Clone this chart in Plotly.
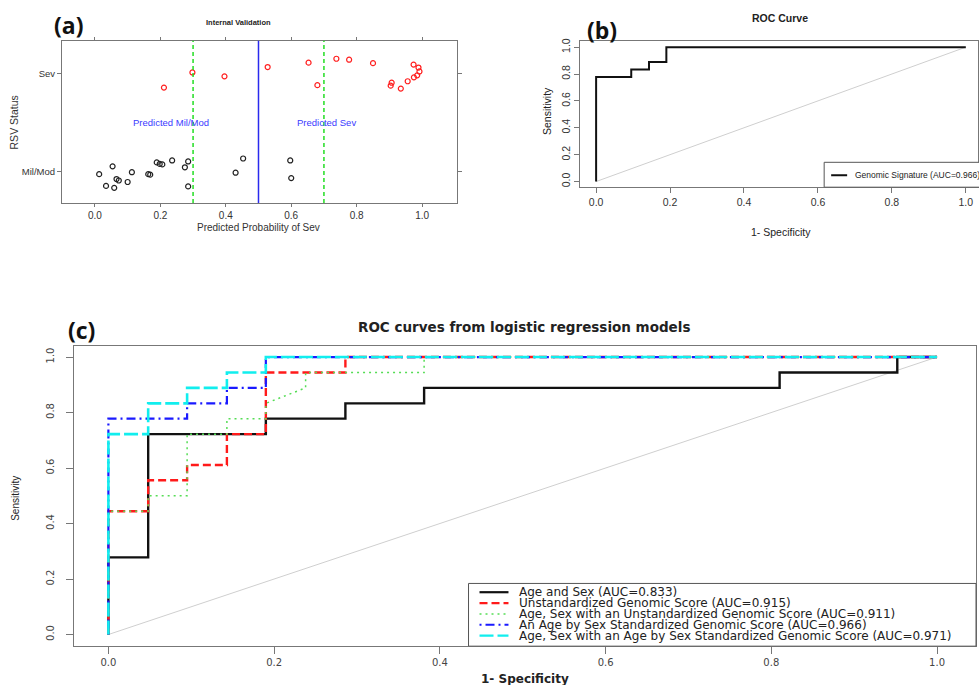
import plotly.graph_objects as go

W, H = 979, 685

# ---------------- Panel (a) data ----------------
mild_prob = [0.013, 0.034, 0.054, 0.059, 0.066, 0.073, 0.100, 0.113, 0.163, 0.169, 0.189,
             0.198, 0.206, 0.236, 0.275, 0.285, 0.285, 0.430, 0.453, 0.597, 0.600]
mild_pos = [-0.03, -0.15, 0.05, -0.17, -0.08, -0.095, -0.11, -0.01, -0.03, -0.035, 0.09,
            0.075, 0.07, 0.11, 0.04, 0.10, -0.155, -0.015, 0.13, 0.11, -0.07]
sev_prob = [0.211, 0.298, 0.396, 0.528, 0.653, 0.680, 0.738, 0.777, 0.850, 0.904, 0.907,
            0.935, 0.956, 0.974, 0.975, 0.985, 0.989, 0.992]
sev_pos = [0.855, 1.01, 0.97, 1.065, 1.11, 0.88, 1.15, 1.14, 1.105, 0.875, 0.905,
           0.845, 0.92, 1.09, 0.96, 0.98, 1.06, 1.02]
status_ticks = [0, 1]
status_labels = ["Mil/Mod", "Sev"]
cut_green = [0.3, 0.7]
cut_blue = [0.5]
prob_ticks = [0.0, 0.2, 0.4, 0.6, 0.8, 1.0]

# ---------------- Panel (b) data ----------------
b_fpr = [0, 0, 0.095, 0.095, 0.143, 0.143, 0.190, 0.190, 1.0]
b_tpr = [0, 0.778, 0.778, 0.833, 0.833, 0.889, 0.889, 1.0, 1.0]
b_label = "Genomic Signature (AUC=0.966)"
diag = [0, 1]

# ---------------- Panel (c) data ----------------
age_sex_fpr = [0, 0, 0.048, 0.048, 0.190, 0.190, 0.286, 0.286, 0.381, 0.381, 0.810, 0.810, 0.952, 0.952, 1.0]
age_sex_tpr = [0, 0.278, 0.278, 0.722, 0.722, 0.778, 0.778, 0.833, 0.833, 0.889, 0.889, 0.944, 0.944, 1.0, 1.0]
unstd_fpr = [0, 0, 0.048, 0.048, 0.095, 0.095, 0.143, 0.143, 0.190, 0.190, 0.286, 0.286, 1.0]
unstd_tpr = [0, 0.444, 0.444, 0.556, 0.556, 0.611, 0.611, 0.722, 0.722, 0.944, 0.944, 1.0, 1.0]
as_unstd_fpr = [0, 0, 0.048, 0.048, 0.095, 0.095, 0.143, 0.143, 0.190, 0.190, 0.238, 0.238, 0.381, 0.381, 1.0]
as_unstd_tpr = [0, 0.444, 0.444, 0.5, 0.5, 0.722, 0.722, 0.778, 0.778, 0.833, 0.889, 0.944, 0.944, 1.0, 1.0]
std_fpr = [0, 0, 0.095, 0.095, 0.143, 0.143, 0.190, 0.190, 1.0]
std_tpr = [0, 0.778, 0.778, 0.833, 0.833, 0.889, 0.889, 1.0, 1.0]
as_std_fpr = [0, 0, 0.048, 0.048, 0.095, 0.095, 0.143, 0.143, 0.190, 0.190, 1.0]
as_std_tpr = [0, 0.722, 0.722, 0.833, 0.833, 0.889, 0.889, 0.944, 0.944, 1.0, 1.0]
c_labels = [
    "Age and Sex (AUC=0.833)",
    "Unstandardized Genomic Score (AUC=0.915)",
    "Age, Sex with an Unstandardized Genomic Score (AUC=0.911)",
    "An Age by Sex Standardized Genomic Score (AUC=0.966)",
    "Age, Sex with an Age by Sex Standardized Genomic Score (AUC=0.971)",
]
roc_ticks = [0.0, 0.2, 0.4, 0.6, 0.8, 1.0]

# styles
c_fprs = [age_sex_fpr, unstd_fpr, as_unstd_fpr, std_fpr, as_std_fpr]
c_tprs = [age_sex_tpr, unstd_tpr, as_unstd_tpr, std_tpr, as_std_tpr]
c_colors = ["#111111", "#ff1a1a", "#55dd55", "#1a1aff", "#11eeee"]
c_widths = [2.4, 2.4, 1.5, 2.2, 2.6]
c_dash = ["solid", "8px,4px", "2px,4px", "2px,4px,9px,4px", "14px,4px"]

SANS = "Liberation Sans, Arial, sans-serif"
WIDE = "DejaVu Sans, Verdana, sans-serif"


def px(x):
    return x / W


def py(y):
    return 1 - y / H


fig = go.Figure()

# ---- (a) ----
fig.add_trace(go.Scatter(x=mild_prob, y=mild_pos, mode="markers", xaxis="x", yaxis="y",
                         marker=dict(symbol="circle-open", size=5, color="#222222", line=dict(width=1.2)),
                         showlegend=False))
fig.add_trace(go.Scatter(x=sev_prob, y=sev_pos, mode="markers", xaxis="x", yaxis="y",
                         marker=dict(symbol="circle-open", size=5, color="#ff2020", line=dict(width=1.2)),
                         showlegend=False))

# ---- (b) ----
fig.add_trace(go.Scatter(x=diag, y=diag, mode="lines", xaxis="x2", yaxis="y2",
                         line=dict(color="#cfcfcf", width=1), showlegend=False))
fig.add_trace(go.Scatter(x=b_fpr, y=b_tpr, mode="lines", xaxis="x2", yaxis="y2",
                         line=dict(color="#111111", width=2), showlegend=False))

# ---- (c) ----
fig.add_trace(go.Scatter(x=diag, y=diag, mode="lines", xaxis="x3", yaxis="y3",
                         line=dict(color="#cfcfcf", width=1), showlegend=False))
for fx, ty, col, wd, ds, lab in zip(c_fprs, c_tprs, c_colors, c_widths, c_dash, c_labels):
    fig.add_trace(go.Scatter(x=fx, y=ty, mode="lines", xaxis="x3", yaxis="y3", name=lab,
                             line=dict(color=col, width=wd, dash=ds), showlegend=False))

shapes = []
for c in cut_green:
    shapes.append(dict(type="line", xref="x", yref="y domain", x0=c, x1=c, y0=0, y1=1,
                       line=dict(color="#22dd22", width=1.5, dash="4px,3px")))
for c in cut_blue:
    shapes.append(dict(type="line", xref="x", yref="y domain", x0=c, x1=c, y0=0, y1=1,
                       line=dict(color="#2a2aee", width=1.5)))

# legend (b)
shapes.append(dict(type="rect", xref="paper", yref="paper", x0=px(825), x1=px(985), y0=py(185), y1=py(160),
                   line=dict(color="#555555", width=1), fillcolor="white", layer="above"))
shapes.append(dict(type="line", xref="paper", yref="paper", x0=px(832), x1=px(848), y0=py(173), y1=py(173),
                   line=dict(color="#111111", width=2), layer="above"))

# legend (c)
shapes.append(dict(type="rect", xref="paper", yref="paper", x0=px(469), x1=px(977), y0=py(646), y1=py(583),
                   line=dict(color="#555555", width=1), fillcolor="white", layer="above"))
rows = [591.8, 602.7, 613.6, 624.5, 635.4]
for r, col, wd, ds in zip(rows, c_colors, c_widths, c_dash):
    shapes.append(dict(type="line", xref="paper", yref="paper", x0=px(480), x1=px(509), y0=py(r), y1=py(r),
                       line=dict(color=col, width=min(wd, 2.2), dash=ds), layer="above"))

ann = []


def A(text, x, y, size, bold=False, color="#222222", family=SANS, angle=0, xanchor="center", xref="paper", yref="paper"):
    t = "<b>" + text + "</b>" if bold else text
    d = dict(text=t, x=x, y=y, xref=xref, yref=yref, showarrow=False, textangle=angle,
             xanchor=xanchor, yanchor="middle", font=dict(size=size, color=color, family=family))
    ann.append(d)


# (a) annotations
A("(a)", px(52), py(22), 23, bold=True, color="#111111", family="Open Sans, Liberation Sans", xanchor="left")
A("Internal Validation", px(239), py(20), 7.5, bold=True)
A("Predicted Mil/Mod", 0.232, 0.5, 9.5, color="#3a3aff", xref="x", yref="y")
A("Predicted Sev", 0.708, 0.5, 9.5, color="#3a3aff", xref="x", yref="y")
A("RSV Status", px(14), py(120), 10.5, angle=-90, color="#333333")
A("Predicted Probability of Sev", px(259), py(225), 10, color="#333333")

# (b) annotations
A("(b)", px(586), py(27), 23, bold=True, color="#111111", family="Open Sans, Liberation Sans", xanchor="left")
A("ROC Curve", px(781), py(15), 10.5, bold=True)
A("Sensitivity", px(547), py(108), 10.5, angle=-90)
A("1- Specificity", px(782), py(230), 10.5)
A(b_label, px(854), py(173), 8.5, xanchor="left")

# (c) annotations
A("(c)", px(66), py(328), 23, bold=True, color="#111111", family="Open Sans, Liberation Sans", xanchor="left")
A("ROC curves from logistic regression models", px(525), py(325), 13.5, bold=True, family=WIDE)
A("Sensitivity", px(16), py(497), 10, angle=-90)
A("1- Specificity", px(526), py(679), 12, bold=True, family=WIDE)
for r, lab in zip(rows, c_labels):
    A(lab, px(518), py(r), 12, family=WIDE, xanchor="left", color="#222222")

axis_common = dict(showgrid=False, zeroline=False, showline=True, linecolor="#777777", linewidth=1,
                   ticks="outside", tickcolor="#777777", fixedrange=True)

fig.update_layout(
    width=W, height=H,
    margin=dict(l=0, r=0, t=0, b=0),
    paper_bgcolor="white", plot_bgcolor="white",
    showlegend=False,
    font=dict(family=SANS, color="#333333"),
    xaxis=dict(domain=[px(62), px(457)], anchor="y", range=[-0.1008, 1.1053],
               tickvals=prob_ticks, ticktext=["%.1f" % v for v in prob_ticks],
               mirror="allticks", ticklen=3, tickfont=dict(size=10, color="#333333"), **axis_common),
    yaxis=dict(domain=[py(201), py(38)], anchor="x", range=[-0.326, 1.333],
               tickvals=status_ticks, ticktext=status_labels,
               mirror="allticks", ticklen=4, tickfont=dict(size=9.5, color="#333333"), **axis_common),
    xaxis2=dict(domain=[px(581), 1.0], anchor="y2", range=[-0.0425, 1.033],
                tickvals=roc_ticks, ticktext=["%.1f" % v for v in roc_ticks],
                mirror=True, ticklen=5, tickfont=dict(size=10.5, color="#333333"), **axis_common),
    yaxis2=dict(domain=[py(185), py(38)], anchor="x2", range=[-0.042, 1.047],
                tickvals=roc_ticks, ticktext=["%.1f" % v for v in roc_ticks], tickangle=-90,
                mirror=True, ticklen=5, tickfont=dict(size=10.5, color="#333333"), **axis_common),
    xaxis3=dict(domain=[px(74), px(977)], anchor="y3", range=[-0.0416, 1.047],
                tickvals=roc_ticks, ticktext=["%.1f" % v for v in roc_ticks],
                mirror=True, ticklen=7, tickfont=dict(size=10, color="#444444", family=WIDE), **axis_common),
    yaxis3=dict(domain=[py(646), py(345)], anchor="x3", range=[-0.042, 1.038],
                tickvals=roc_ticks, ticktext=["%.1f" % v for v in roc_ticks], tickangle=-90,
                ticklabelstandoff=8,
                mirror=True, ticklen=7, tickfont=dict(size=10, color="#444444", family=WIDE), **axis_common),
    shapes=shapes,
    annotations=ann,
)

fig.write_html("out.html")
